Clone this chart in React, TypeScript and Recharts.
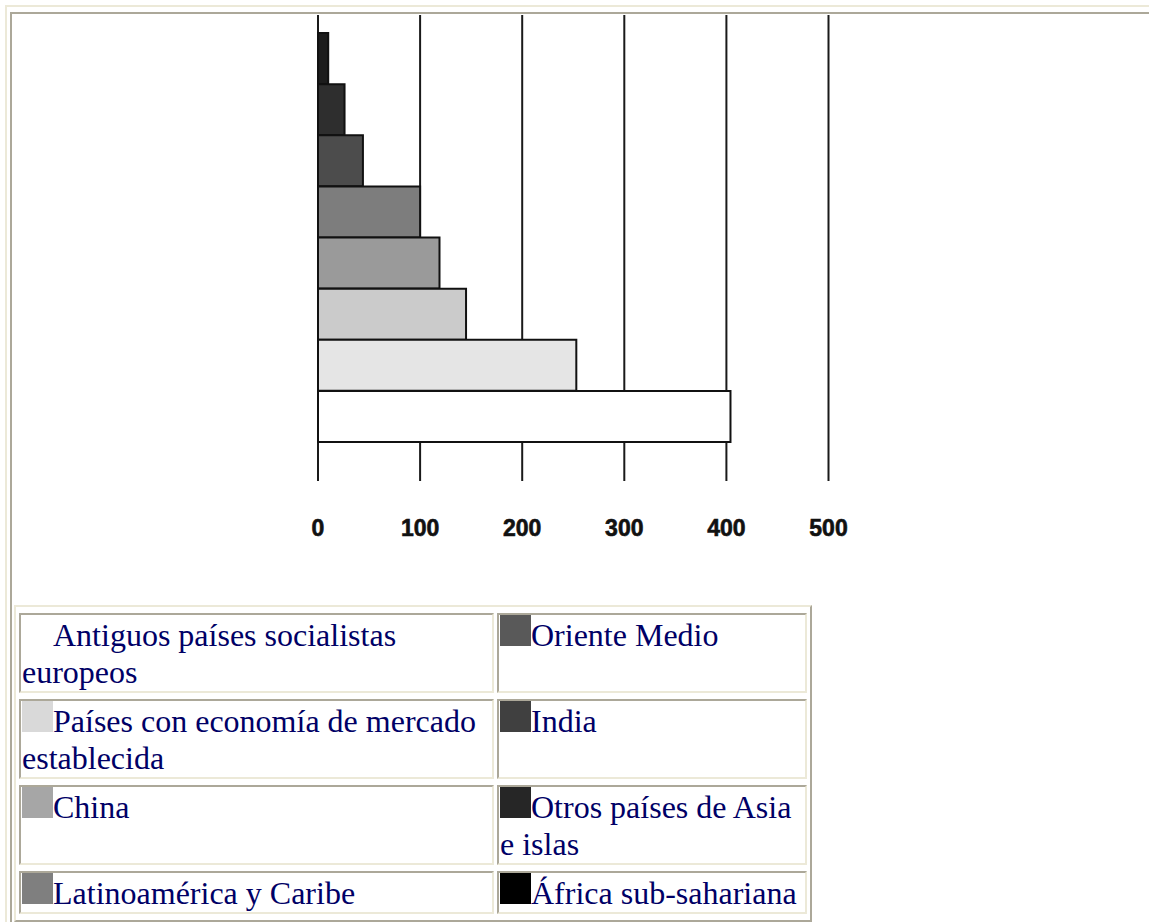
import React from 'react';
import { BarChart, Bar, XAxis, YAxis, CartesianGrid, Cell } from 'recharts';

// ── data ──────────────────────────────────────────────────────────────────────

// bars, top to bottom
const regions = [
  'África sub-sahariana',
  'Otros países de Asia e islas',
  'India',
  'Oriente Medio',
  'Latinoamérica y Caribe',
  'China',
  'Países con economía de mercado establecida',
  'Antiguos países socialistas europeos',
];
const values = [10, 26, 44, 100, 119, 145, 253, 404];
const barFills = ['#1c1c1c', '#2e2e2e', '#4c4c4c', '#7d7d7d', '#9a9a9a', '#cbcbcb', '#e5e5e5', '#ffffff'];

const xTicks = [0, 100, 200, 300, 400, 500];

// legend table, row by row (left cell, right cell)
const legendLeft = [
  'Antiguos países socialistas europeos',
  'Países con economía de mercado establecida',
  'China',
  'Latinoamérica y Caribe',
];
const legendRight = [
  'Oriente Medio',
  'India',
  'Otros países de Asia e islas',
  'África sub-sahariana',
];
const legendLeftColors = ['#ffffff', '#d9d9d9', '#a6a6a6', '#7f7f7f'];
const legendRightColors = ['#595959', '#404040', '#262626', '#000000'];

// ── styles ────────────────────────────────────────────────────────────────────

const LIGHT = '#ECE9D8';
const DARK = '#ACA899';

const data = regions.map((name, i) => ({ name, value: values[i] }));

function AxisTick({ x, y, payload }: { x?: number; y?: number; payload?: { value: number } }) {
  return (
    <text
      x={x}
      y={(y ?? 0) + 55}
      textAnchor="middle"
      fontFamily="'Liberation Sans', Arial, sans-serif"
      fontWeight="bold"
      fontSize={23}
      fill="#111"
      stroke="#111"
      strokeWidth={0.6}
    >
      {payload?.value}
    </text>
  );
}

function LegendCell({ label, color, width }: { label: string; color: string; width: number }) {
  return (
    <td
      style={{
        width,
        verticalAlign: 'top',
        padding: '0 1px',
        borderStyle: 'solid',
        borderWidth: 2,
        borderColor: `${DARK} ${LIGHT} ${LIGHT} ${DARK}`,
      }}
    >
      <span style={{ display: 'inline-block', width: 31, height: 31, background: color }} />
      {label}
    </td>
  );
}

// ── main ──────────────────────────────────────────────────────────────────────

export default function App() {
  return (
    <div
      style={{
        position: 'absolute', left: 0, top: 0, width: 1149, height: 922,
        overflow: 'hidden', background: '#fff',
        fontFamily: "'Liberation Serif', 'Times New Roman', serif",
      }}
    >
      {/* outer frame */}
      <div style={{
        position: 'absolute', left: 5, top: 5, width: 1300, height: 1100,
        borderLeft: `2px solid ${LIGHT}`, borderTop: `2px solid ${LIGHT}`,
      }} />
      <div style={{
        position: 'absolute', left: 10, top: 12, width: 1300, height: 1100,
        borderLeft: `2px solid ${DARK}`, borderTop: `2px solid ${DARK}`,
      }} />

      <div style={{ position: 'absolute', left: 12, top: 14 }}>
        <BarChart
          width={1000}
          height={580}
          data={data}
          layout="vertical"
          barCategoryGap={0}
          margin={{ top: 1, right: 183.5, left: 306, bottom: 53 }}
        >
          <CartesianGrid horizontal={false} stroke="#1a1a1a" strokeWidth={2} />
          <XAxis
            type="number"
            domain={[0, 500]}
            ticks={xTicks}
            height={60}
            axisLine={false}
            tickLine={false}
            tickSize={0}
            tickMargin={0}
            tick={<AxisTick />}
          />
          <YAxis type="category" dataKey="name" hide padding={{ top: 18, bottom: 39 }} />
          <Bar dataKey="value" stroke="#111" strokeWidth={2} isAnimationActive={false}>
            {data.map((d, i) => (
              <Cell key={d.name} fill={barFills[i]} />
            ))}
          </Bar>
        </BarChart>
      </div>

      {/* legend table */}
      <table
        style={{
          position: 'absolute', left: 14, top: 605,
          borderStyle: 'solid', borderWidth: 2,
          borderColor: `${LIGHT} ${DARK} ${DARK} ${LIGHT}`,
          borderSpacing: '3px 6px',
          fontSize: 32,
          color: '#000066',
          lineHeight: 'normal',
        }}
      >
        <tbody>
          {legendLeft.map((label, i) => (
            <tr key={label}>
              <LegendCell label={label} color={legendLeftColors[i]} width={469} />
              <LegendCell label={legendRight[i]} color={legendRightColors[i]} width={304} />
            </tr>
          ))}
        </tbody>
      </table>
    </div>
  );
}
